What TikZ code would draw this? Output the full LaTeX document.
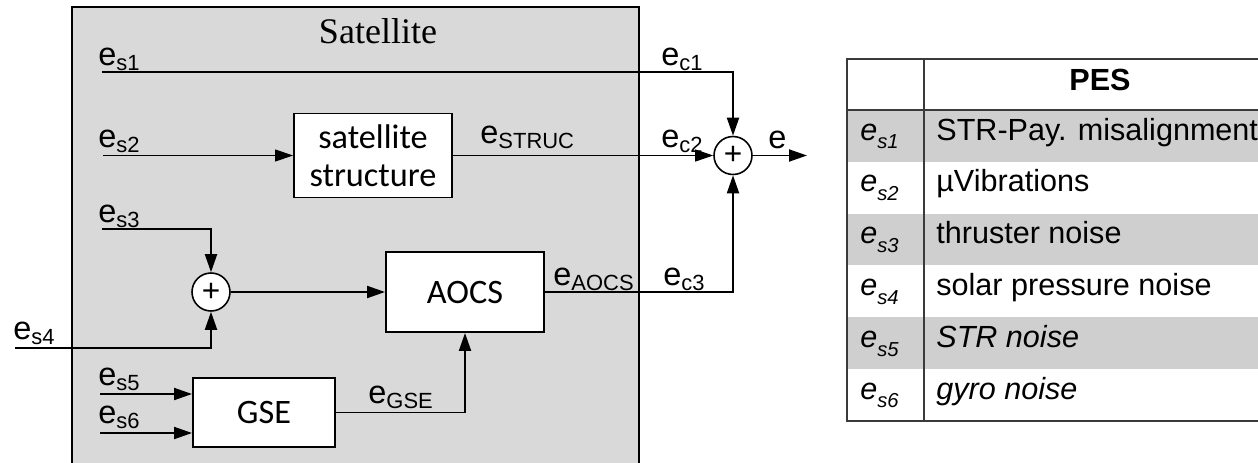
\documentclass[tikz,border=0pt]{standalone}
\usepackage{fontspec}
\setmainfont{Liberation Sans}
\newfontfamily\calfont{Carlito}
\newfontfamily\serfont{Liberation Serif}
\usepackage{xcolor}
\usetikzlibrary{arrows.meta,positioning,calc}
\definecolor{satgray}{HTML}{D9D9D9}
\definecolor{rowgray}{HTML}{CFCFCF}
\definecolor{tabline}{HTML}{3A3A3A}
\newcommand{\sig}[1]{e\raisebox{-3.2pt}{\fontsize{12.5}{12.5}\selectfont #1}}
\newcommand{\tsig}[1]{\textit{e\raisebox{-5pt}{\fontsize{11.5}{11.5}\selectfont #1}}}

\begin{document}
\begin{tikzpicture}[x=0.02cm,y=-0.02cm,
    >={Triangle[length=3.6mm,width=2.4mm]},
    arrow/.style={->,line width=1.1pt,draw=black},
    thinarrow/.style={->,line width=0.6pt,draw=black},
    block/.style={draw,line width=1.1pt,fill=white,align=center,inner sep=0pt,
      font=\calfont\fontsize{19.5}{21.5}\selectfont},
    sum/.style={circle,draw,line width=0.9pt,fill=white,inner sep=0pt,
      minimum size=0.76cm,font=\fontsize{18}{18}\selectfont},
    siglabel/.style={anchor=base west,inner sep=0pt,font=\fontsize{18.5}{18.5}\selectfont},
    cell/.style={anchor=base west,inner sep=0pt,font=\fontsize{17.4}{17.4}\selectfont}
  ]
    \useasboundingbox (0,0) rectangle (1258,463);
    % satellite frame
    \fill[satgray] (72,7) rectangle (639,463);
    \draw[line width=1.1pt] (72,463) |- (639,7) -- (639,463);
    \node[anchor=base,inner sep=0pt,font=\serfont\fontsize{20.5}{20.5}\selectfont]
      (title) at (378,43) {Satellite};

    \node[block,minimum width=3.16cm,minimum height=1.68cm] (struc) at (373,155.5)
      {satellite\\structure};
    \node[block,minimum width=3.16cm,minimum height=1.6cm] (aocs) at (465,292) {AOCS};
    \node[block,minimum width=2.84cm,minimum height=1.38cm] (gse) at (264,412.5) {GSE};
    \node[sum] (sumout) at (733,155.5) {+};
    \node[sum] (sumin) at (211,292) {+};

    \coordinate (in1) at (102,72);
    \coordinate (in2) at (103,155.5);
    \coordinate (in3) at (102,229);
    \coordinate (in4) at (15,348);
    \coordinate (in5) at (100,394);
    \coordinate (in6) at (100,433);
    \coordinate (out) at (807,155.5);

    \draw[arrow] (in1) -| (sumout);
    \draw[thinarrow] (in2) -- (struc);
    \draw[thinarrow] (struc) -- (sumout);
    \draw[arrow] (sumout) -- (out);
    \draw[arrow] (in3) -| (sumin);
    \draw[arrow] (in4) -| (sumin);
    \draw[arrow] (sumin) -- (aocs);
    \draw[arrow] (aocs) -| (sumout);
    \draw[arrow] (in5) -- (gse.west |- in5);
    \draw[arrow] (in6) -- (gse.west |- in6);
    \draw[arrow] (gse) -| (aocs);

    \node[siglabel] (es1) at (98,65) {\sig{s1}};
    \node[siglabel] (es2) at (98,147) {\sig{s2}};
    \node[siglabel] (es3) at (98,222) {\sig{s3}};
    \node[siglabel] (es4) at (13,339) {\sig{s4}};
    \node[siglabel] (es5) at (98,385) {\sig{s5}};
    \node[siglabel] (es6) at (98,423) {\sig{s6}};
    \node[siglabel] (estruc) at (480,143) {\sig{STRUC}};
    \node[siglabel] (eaocs) at (553,285) {\sig{AOCS}};
    \node[siglabel] (egse) at (368,403) {\sig{GSE}};
    \node[siglabel] (ec1) at (661,65) {\sig{c1}};
    \node[siglabel] (ec2) at (661,147) {\sig{c2}};
    \node[siglabel] (ec3) at (663,285) {\sig{c3}};
    \node[siglabel] (eout) at (768,148) {e};

    % table of error sources
    \foreach \i/\txt in {1/STR-Pay. misalignment,2/µVibrations,3/thruster noise,
        4/solar pressure noise,5/\textit{STR noise},6/\textit{gyro noise}}{
      \pgfmathsetmacro{\rowtop}{110+(\i-1)*51.83}
      \ifodd\i
        \fill[rowgray] (847,\rowtop) rectangle (1258,{\rowtop+51.83});
      \fi
      \node[cell] (sym\i) at (860,{\rowtop+30}) {\tsig{s\i}};
      \node[cell] (desc\i) at (936,{\rowtop+30}) {\txt};
    }
    \node[anchor=base,inner sep=0pt,font=\bfseries\fontsize{17.4}{17.4}\selectfont]
      (pes) at (1100,90) {PES};
    \draw[tabline,line width=0.8pt] (1258,59) -- (847,59) -- (847,421) -- (1258,421);
    \draw[tabline,line width=0.8pt] (847,110) -- (1258,110);
    \draw[tabline,line width=0.8pt] (924,59) -- (924,421);
  \end{tikzpicture}
\end{document}
